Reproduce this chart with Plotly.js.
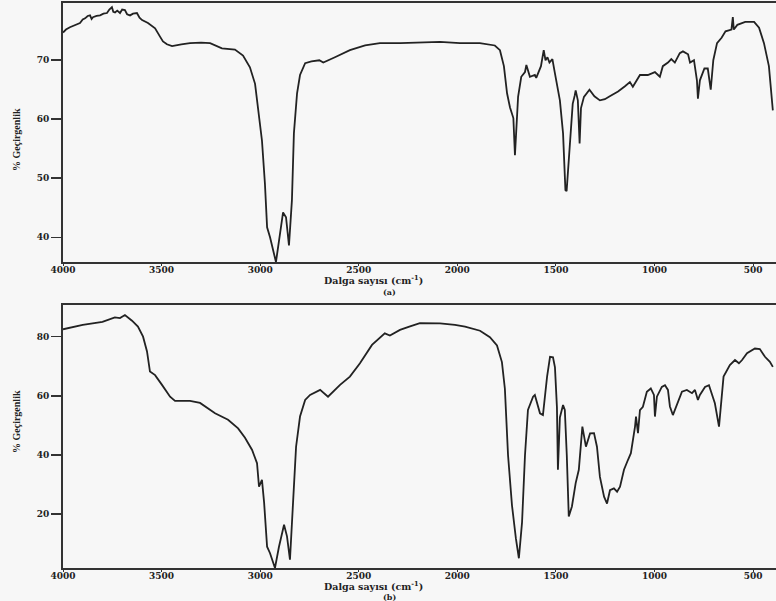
<!DOCTYPE html>
<html>
<head>
<meta charset="utf-8">
<script src="https://cdn.plot.ly/plotly-3.0.1.min.js"></script>
<style>html,body{margin:0;padding:0;background:#f7f7f7;}#chart{width:776px;height:601px;}</style>
</head>
<body>
<div id="chart"></div>
<script>
// Panel (a) spectrum: wavenumber (cm-1) and % transmittance
var wnA = [4000,3985,3965,3940,3914,3900,3888,3875,3863,3855,3848,3830,3812,3795,3777,3765,3752,3745,3736,3725,3711,3700,3686,3675,3660,3645,3625,3612,3599,3569,3533,3508,3493,3473,3447,3400,3356,3300,3254,3194,3160,3128,3087,3052,3026,3011,2991,2976,2965,2950,2935,2920,2905,2884,2869,2854,2839,2829,2813,2798,2772,2740,2700,2680,2621,2545,2468,2393,2290,2190,2088,1987,1886,1810,1784,1764,1748,1733,1716,1708,1692,1676,1657,1650,1632,1607,1600,1576,1562,1553,1543,1533,1518,1507,1480,1464,1452,1446,1430,1415,1405,1400,1389,1380,1373,1358,1330,1305,1277,1252,1227,1185,1150,1125,1110,1074,1034,998,973,958,932,915,897,872,856,830,820,800,785,780,770,747,730,720,715,702,683,660,640,610,603,598,580,540,495,470,445,420,400];
var tA  = [74.7,75.2,75.6,75.9,76.3,76.9,77.1,77.5,77.6,77.0,77.3,77.5,77.6,77.9,78.0,78.6,79.0,78.2,78.1,78.4,78.0,78.6,78.5,77.8,77.6,77.9,78.0,77.2,76.8,76.3,75.4,74.0,73.2,72.7,72.4,72.7,72.9,73.0,72.9,72.0,71.9,71.8,70.8,68.8,66.0,61.5,56.4,49.1,41.7,40.0,38.1,35.8,39.3,44.2,43.4,38.6,46.3,57.6,64.4,67.5,69.5,69.8,70.0,69.6,70.5,71.7,72.5,72.9,72.9,73.0,73.1,72.9,72.9,72.5,71.7,69.0,64.4,62.0,60.2,53.9,63.8,67.2,68.0,69.2,67.2,67.5,67.0,69.0,71.7,70.0,70.5,69.6,70.2,68.1,63.2,57.6,48.0,47.8,56.4,62.6,64.0,64.9,63.2,55.9,61.9,63.8,65.0,63.9,63.2,63.4,63.9,64.7,65.6,66.3,65.5,67.5,67.5,68.0,67.2,69.0,69.6,70.2,69.6,71.2,71.5,71.0,69.6,70.0,66.6,63.5,66.6,68.6,68.6,66.6,65.0,70.0,72.9,73.8,74.9,75.2,77.3,75.2,76.0,76.5,76.5,75.5,72.9,69.0,61.5];

// Panel (b) spectrum
var wnB = [4000,3960,3900,3800,3737,3711,3686,3650,3620,3594,3574,3559,3533,3498,3457,3432,3356,3305,3229,3163,3112,3077,3041,3016,3006,2991,2980,2965,2950,2925,2905,2879,2864,2849,2833,2818,2798,2772,2747,2696,2656,2595,2545,2494,2433,2368,2342,2291,2240,2190,2088,2012,1961,1885,1835,1799,1774,1759,1743,1723,1703,1688,1672,1657,1642,1616,1607,1581,1566,1545,1530,1515,1505,1495,1490,1480,1464,1455,1445,1435,1419,1400,1384,1377,1366,1348,1327,1307,1292,1277,1256,1241,1226,1206,1190,1175,1155,1135,1120,1099,1094,1084,1074,1059,1039,1019,1003,998,988,963,947,932,922,907,887,861,836,810,795,780,770,744,724,709,694,673,660,650,618,592,572,556,531,516,491,466,440,415,400];
var tB  = [82.5,83.2,84.0,85.0,86.5,86.3,87.3,85.4,83.4,80.0,75.0,68.2,67.0,63.7,59.7,58.3,58.3,57.6,54.1,51.9,49.0,45.8,41.7,37.2,29.3,31.6,23.8,9.0,6.8,1.8,8.9,16.4,12.5,4.6,26.0,42.8,53.0,58.6,60.3,62.0,59.7,63.7,66.5,71.0,77.2,81.1,80.4,82.3,83.5,84.6,84.5,84.0,83.4,82.0,79.8,77.0,71.4,62.4,39.9,23.0,11.7,5.1,17.2,39.9,55.2,59.7,60.3,54.1,53.5,66.5,73.2,73.0,69.6,56.1,35.0,52.7,56.9,55.2,39.9,19.2,22.6,30.5,35.0,39.9,49.6,42.8,47.3,47.4,42.8,32.6,25.9,23.6,28.1,28.7,27.6,29.3,35.0,38.3,40.6,49.6,53.0,47.4,55.2,56.3,61.4,62.5,60.3,53.0,59.7,63.0,63.6,62.0,56.4,53.5,56.9,61.4,62.0,60.9,62.0,58.6,60.3,63.0,63.6,60.9,57.5,49.6,59.7,66.5,70.4,72.1,71.0,72.1,74.4,75.0,76.0,75.8,73.2,71.5,69.8];

var xTicks = [4000,3500,3000,2500,2000,1500,1000,500];
var yTicksA = [40,50,60,70];
var yTicksB = [20,40,60,80];

var lineStyle = {color:'#222', width:1.8};
var tickFont = {family:'DejaVu Serif', size:9, color:'#222', weight:'bold'};

var traces = [
  {x:wnA, y:tA, type:'scatter', mode:'lines', line:lineStyle, xaxis:'x', yaxis:'y', hoverinfo:'skip'},
  {x:wnB, y:tB, type:'scatter', mode:'lines', line:lineStyle, xaxis:'x2', yaxis:'y2', hoverinfo:'skip'}
];

function xax(anchor){
  return {domain:[0.0812,1], range:[4000,384], anchor:anchor, tickvals:xTicks, ticktext:xTicks.map(String),
    showgrid:false, zeroline:false, showline:true, mirror:true, linecolor:'#333', linewidth:2,
    ticks:'outside', ticklen:2, tickwidth:1, tickcolor:'#333', tickfont:tickFont, ticklabelstandoff:-4, automargin:false};
}
function yax(anchor, dom, rng, tv){
  return {domain:dom, range:rng, anchor:anchor, tickvals:tv, ticktext:tv.map(String),
    showgrid:false, zeroline:false, showline:true, mirror:false, linecolor:'#333', linewidth:2,
    ticks:'outside', ticklen:10, tickwidth:1.5, tickcolor:'#333', tickfont:tickFont, automargin:false};
}

var titleFont = {family:'DejaVu Serif', size:9.5, color:'#222', weight:'bold'};
var subFont = {family:'DejaVu Serif', size:8, color:'#222', weight:'bold'};
var yTitleFont = {family:'Liberation Serif', size:10, color:'#222', weight:'bold'};

var layout = {
  width:776, height:601,
  margin:{l:0,r:0,t:0,b:0},
  paper_bgcolor:'#f7f7f7', plot_bgcolor:'#f7f7f7',
  showlegend:false,
  xaxis: xax('y'),
  yaxis: yax('x', [0.564,0.995], [35.8,79.7], yTicksA),
  xaxis2: xax('y2'),
  yaxis2: yax('x2', [0.0549,0.4925], [1.8,90.7], yTicksB),
  annotations:[
    {text:'Dalga sayısı (cm<sup>-1</sup>)', xref:'paper', yref:'paper', x:373/776, y:1-279.5/601, showarrow:false, font:titleFont, xanchor:'center', yanchor:'middle'},
    {text:'(a)', xref:'paper', yref:'paper', x:389/776, y:1-291.5/601, showarrow:false, font:subFont, xanchor:'center', yanchor:'middle'},
    {text:'Dalga sayısı (cm<sup>-1</sup>)', xref:'paper', yref:'paper', x:373/776, y:1-586/601, showarrow:false, font:titleFont, xanchor:'center', yanchor:'middle'},
    {text:'(b)', xref:'paper', yref:'paper', x:389/776, y:1-596.5/601, showarrow:false, font:subFont, xanchor:'center', yanchor:'middle'},
    {text:'% Geçirgenlik', xref:'paper', yref:'paper', x:16/776, y:1-140/601, showarrow:false, font:yTitleFont, textangle:-90, xanchor:'center', yanchor:'middle'},
    {text:'% Geçirgenlik', xref:'paper', yref:'paper', x:16/776, y:1-422/601, showarrow:false, font:yTitleFont, textangle:-90, xanchor:'center', yanchor:'middle'}
  ]
};

Plotly.newPlot('chart', traces, layout, {staticPlot:true, displayModeBar:false});
</script>
</body>
</html>
